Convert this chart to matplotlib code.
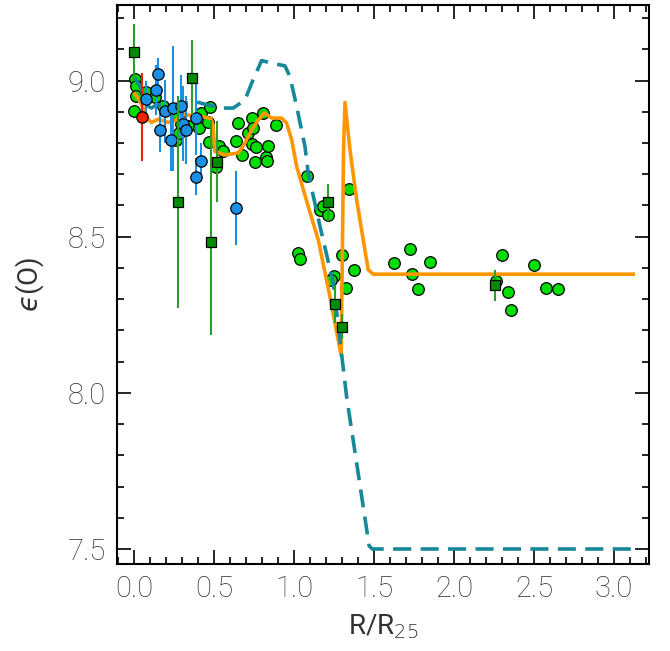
import matplotlib
matplotlib.use("Agg")
import matplotlib.pyplot as plt
from matplotlib.ticker import MultipleLocator

# green circles
green_x = [0.010, 0.015, 0.015, 0.000, 0.073, 0.131, 0.183, 0.277, 0.292, 0.264,
           0.281, 0.339, 0.406, 0.417, 0.464, 0.473, 0.469, 0.531, 0.556, 0.514,
           0.648, 0.635, 0.677, 0.714, 0.735, 0.744, 0.735, 0.764, 0.756, 0.806,
           0.823, 0.835, 0.829, 0.889, 1.079, 1.162, 1.181, 1.210, 1.027, 1.037,
           1.344, 1.302, 1.373, 1.323, 1.252, 1.233, 1.623, 1.725, 1.848, 1.738,
           1.777, 2.302, 2.260, 2.339, 2.354, 2.500, 2.573, 2.652]
green_y = [9.004, 8.984, 8.952, 8.901, 8.963, 8.947, 8.920, 8.889, 8.860, 8.811,
           8.832, 8.853, 8.848, 8.896, 8.867, 8.915, 8.804, 8.791, 8.774, 8.724,
           8.865, 8.806, 8.761, 8.833, 8.881, 8.848, 8.796, 8.786, 8.738, 8.896,
           8.756, 8.791, 8.741, 8.858, 8.696, 8.586, 8.597, 8.568, 8.447, 8.428,
           8.653, 8.443, 8.392, 8.335, 8.374, 8.360, 8.416, 8.462, 8.418, 8.380,
           8.333, 8.440, 8.358, 8.322, 8.264, 8.408, 8.335, 8.334]

# blue circles with errors
blue_x = [0.152, 0.139, 0.073, 0.194, 0.244, 0.296, 0.163, 0.231, 0.306, 0.327,
          0.390, 0.417, 0.385, 0.635]
blue_y = [9.022, 8.971, 8.940, 8.901, 8.912, 8.919, 8.841, 8.811, 8.862, 8.842,
          8.881, 8.741, 8.692, 8.592]
blue_err = [0.05, 0.08, 0.06, 0.10, 0.20, 0.10, 0.07, 0.10, 0.12, 0.11,
            0.12, 0.06, 0.06, 0.12]

# red circle
red_x = [0.048]
red_y = [8.884]
red_err = [0.14]

# dark green squares
sq_x = [0.000, 0.360, 0.273, 0.480, 0.520, 1.215, 1.256, 1.302, 2.256]
sq_y = [9.092, 9.009, 8.611, 8.484, 8.740, 8.610, 8.283, 8.212, 8.344]
sq_lo = [0.09, 0.12, 0.34, 0.30, 0.13, 0.06, 0.06, 0.04, 0.05]
sq_hi = [0.09, 0.12, 0.34, 0.39, 0.13, 0.06, 0.06, 0.04, 0.05]

# orange model
orange_x = [0.006, 0.038, 0.089, 0.110, 0.152, 0.214, 0.256, 0.308, 0.381, 0.444,
            0.481, 0.494, 0.506, 0.569, 0.652, 0.694, 0.736, 0.777, 0.815, 0.861,
            0.923, 0.954, 0.986, 1.017, 1.089, 1.152, 1.225, 1.295, 1.310, 1.319,
            1.350, 1.392, 1.433, 1.464, 1.496, 3.12]
orange_y = [8.957, 8.934, 8.876, 8.866, 8.876, 8.866, 8.871, 8.892, 8.886, 8.883,
            8.878, 8.858, 8.773, 8.762, 8.768, 8.800, 8.842, 8.874, 8.896, 8.880,
            8.880, 8.864, 8.810, 8.725, 8.597, 8.490, 8.308, 8.120, 8.779, 8.930,
            8.779, 8.618, 8.490, 8.394, 8.380, 8.380]

# teal dashed model
teal_x = [0.006, 0.038, 0.089, 0.110, 0.142, 0.225, 0.277, 0.319, 0.381, 0.454,
          0.548, 0.621, 0.694, 0.736, 0.798, 0.861, 0.944, 0.975, 1.017, 1.069,
          1.089, 1.163, 1.246, 1.329, 1.470, 1.490, 3.12]
teal_y = [9.008, 8.982, 8.918, 8.912, 8.923, 8.918, 8.923, 8.928, 8.933, 8.923,
          8.912, 8.912, 8.938, 8.992, 9.064, 9.056, 9.047, 9.013, 8.917, 8.789,
          8.704, 8.533, 8.351, 7.988, 7.510, 7.500, 7.500]

plt.rcParams['font.family'] = ['Roboto', 'DejaVu Sans']
plt.rcParams['font.weight'] = 'light'
plt.rcParams['mathtext.fontset'] = 'dejavusans'

fig = plt.figure(figsize=(6.7, 6.51), dpi=100)
ax = fig.add_axes([0.175, 0.1332, 0.794, 0.8596])

ax.scatter(green_x, green_y, s=70, c='#00dd00', edgecolors='black',
           linewidths=0.9, zorder=2)

ax.plot(orange_x, orange_y, color='#ff9500', lw=2.6, zorder=3,
        solid_joinstyle='round')
ax.plot(teal_x, teal_y, color='#16889a', lw=2.6, dashes=(5, 2.6), zorder=3)

ax.errorbar(blue_x, blue_y, yerr=blue_err, fmt='o', ms=8.2, mfc='#1a8fe6',
            mec='black', mew=0.9, ecolor='#1a8fe6', elinewidth=1.5,
            capsize=0, zorder=4)
ax.errorbar(red_x, red_y, yerr=red_err, fmt='o', ms=8.2, mfc='#ee2200',
            mec='black', mew=0.9, ecolor='#ee2200', elinewidth=1.5,
            capsize=0, zorder=4)
ax.errorbar(sq_x, sq_y, yerr=[sq_lo, sq_hi], fmt='s', ms=7.5, mfc='#008c00',
            mec='black', mew=0.9, ecolor='#2aa02a', elinewidth=1.5,
            capsize=0, zorder=5)

ax.set_xlim(-0.104, 3.22)
ax.set_ylim(7.451, 9.243)
ax.xaxis.set_major_locator(MultipleLocator(0.5))
ax.xaxis.set_minor_locator(MultipleLocator(0.1))
ax.yaxis.set_major_locator(MultipleLocator(0.5))
ax.yaxis.set_minor_locator(MultipleLocator(0.1))
ax.xaxis.set_major_formatter(plt.FormatStrFormatter('%.1f'))
ax.yaxis.set_major_formatter(plt.FormatStrFormatter('%.1f'))
ax.tick_params(which='both', direction='in', top=True, right=True,
               labelsize=21, labelcolor='#333333', width=1.2, pad=8)
ax.tick_params(which='major', length=10)
ax.tick_params(which='minor', length=5)
for s in ax.spines.values():
    s.set_linewidth(1.5)

ax.set_xlabel(r'R/R$_{25}$', fontsize=20, color='#333333', labelpad=6)
ax.set_ylabel('$\u03f5$(O)', fontsize=20, color='#333333', labelpad=16)

fig.savefig('out.png', dpi=100)
